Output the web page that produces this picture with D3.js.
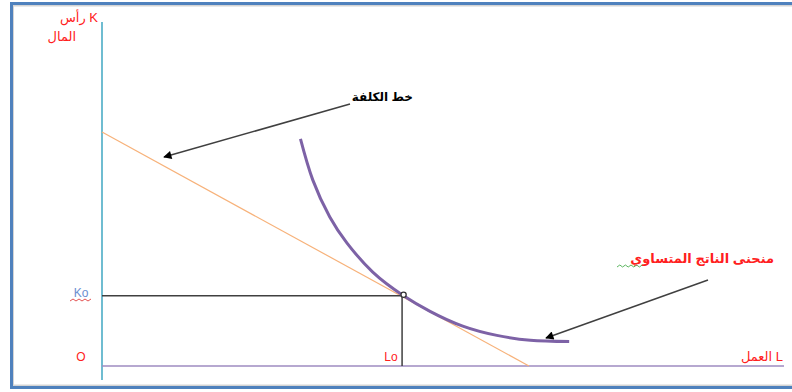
<!DOCTYPE html>
<html>
<head>
<meta charset="utf-8">
<script src="https://cdn.jsdelivr.net/npm/d3@7"></script>
<style>
  html, body { margin: 0; padding: 0; background: #fff; }
  svg { display: block; }
  text { font-family: "Liberation Sans", "DejaVu Sans", sans-serif; }
</style>
</head>
<body>
<svg id="chart" width="792" height="392"></svg>
<script>
// Producer equilibrium: isoquant tangent to the isocost line
const isoquantL = [29.1, 30.9, 33.4, 35.9, 39.7, 44.1, 48.1, 52.9, 57.9, 62.8, 68.5];
const isoquantK = [66.0, 54.1, 43.3, 35.8, 27.3, 20.6, 15.9, 11.6, 8.9, 7.5, 7.1];
const costLineL = [0, 62.6];
const costLineK = [68.0, 0];
const optimumL = 44.0;
const optimumK = 20.4;

const svg = d3.select("#chart");

const x = d3.scaleLinear().domain([0, 100]).range([102, 784]);
const y = d3.scaleLinear().domain([0, 100]).range([366, 22]);

// page frame
svg.append("rect")
  .attr("x", 13).attr("y", 5.5).attr("width", 800).attr("height", 380)
  .attr("fill", "none").attr("stroke", "#d4d4d4").attr("stroke-width", 2);
svg.append("rect")
  .attr("x", 11.5).attr("y", 3.5).attr("width", 800).attr("height", 384)
  .attr("fill", "none").attr("stroke", "#4f81bd").attr("stroke-width", 3);

// arrow marker
svg.append("defs").append("marker")
  .attr("id", "head")
  .attr("viewBox", "0 0 10 10")
  .attr("refX", 9).attr("refY", 5)
  .attr("markerWidth", 7.5).attr("markerHeight", 5.5)
  .attr("orient", "auto")
  .attr("markerUnits", "strokeWidth")
  .append("path").attr("d", "M0,0 L10,5 L0,10 Z").attr("fill", "#000");

// axes
svg.append("line")
  .attr("x1", x(0)).attr("x2", x(0))
  .attr("y1", y(100)).attr("y2", y(0) + 14)
  .attr("stroke", "#4bacc6").attr("stroke-width", 1.6);
svg.append("line")
  .attr("x1", x(0)).attr("x2", x(100))
  .attr("y1", y(0)).attr("y2", y(0))
  .attr("stroke", "#9e8bc1").attr("stroke-width", 1.5);

// isocost line
svg.append("line")
  .attr("x1", x(costLineL[0])).attr("y1", y(costLineK[0]))
  .attr("x2", x(costLineL[1])).attr("y2", y(costLineK[1]))
  .attr("stroke", "#f7b27a").attr("stroke-width", 1.2);

// guide lines to the optimum
svg.append("path")
  .attr("d", `M${x(0)},${y(optimumK)} H${x(optimumL)} V${y(0)}`)
  .attr("fill", "none").attr("stroke", "#404040").attr("stroke-width", 1.5);

// isoquant
const pts = isoquantL.map((l, i) => [l, isoquantK[i]]);
svg.append("path")
  .datum(pts)
  .attr("d", d3.line().x(d => x(d[0])).y(d => y(d[1])).curve(d3.curveNatural))
  .attr("fill", "none").attr("stroke", "#7d62a6").attr("stroke-width", 3);

// tangency point
svg.append("circle")
  .attr("cx", x(optimumL) + 1.5).attr("cy", y(optimumK) - 1)
  .attr("r", 2.6)
  .attr("fill", "#fff").attr("stroke", "#333").attr("stroke-width", 1.3);

// callout arrows
svg.append("line")
  .attr("x1", 350).attr("y1", 104).attr("x2", 164).attr("y2", 157)
  .attr("stroke", "#404040").attr("stroke-width", 1.5)
  .attr("marker-end", "url(#head)");
svg.append("line")
  .attr("x1", 708).attr("y1", 280).attr("x2", 546).attr("y2", 338)
  .attr("stroke", "#404040").attr("stroke-width", 1.5)
  .attr("marker-end", "url(#head)");

// labels
const red = "#ff2020";
svg.append("text").attr("x", 98).attr("y", 22).attr("text-anchor", "end")
  .attr("font-size", 13).attr("fill", red).text("رأس K");
svg.append("text").attr("x", 76).attr("y", 41).attr("text-anchor", "end")
  .attr("font-size", 13).attr("fill", red).text("المال");

svg.append("text").attr("x", 81).attr("y", 297).attr("text-anchor", "middle")
  .attr("font-size", 12).attr("fill", "#6c8fd0").text("Ko");
svg.append("path")
  .attr("d", d3.range(0, 8).map(i => `${i ? "L" : "M"}${70 + i * 3},${i % 2 ? 299 : 301}`).join(""))
  .attr("fill", "none").attr("stroke", "#e04040").attr("stroke-width", 0.9);

svg.append("text").attr("x", 81).attr("y", 361).attr("text-anchor", "middle")
  .attr("font-size", 12).attr("fill", red).text("O");
svg.append("text").attr("x", 391).attr("y", 361).attr("text-anchor", "middle")
  .attr("font-size", 12).attr("fill", red).text("Lo");
svg.append("text").attr("x", 783).attr("y", 361).attr("text-anchor", "end")
  .attr("font-size", 13).attr("fill", red).text("العمل L");

svg.append("text").attr("x", 413).attr("y", 101).attr("text-anchor", "end")
  .attr("font-size", 12).attr("font-weight", "bold").attr("fill", "#000").text("خط الكلفة");

svg.append("text").attr("x", 774).attr("y", 263).attr("text-anchor", "end")
  .attr("font-size", 13).attr("font-weight", "bold").attr("fill", red).text("منحنى الناتج المتساوي");
svg.append("path")
  .attr("d", d3.range(0, 10).map(i => `${i ? "L" : "M"}${617 + i * 2.8},${i % 2 ? 265 : 267}`).join(""))
  .attr("fill", "none").attr("stroke", "#4caf50").attr("stroke-width", 0.9);
</script>
</body>
</html>
